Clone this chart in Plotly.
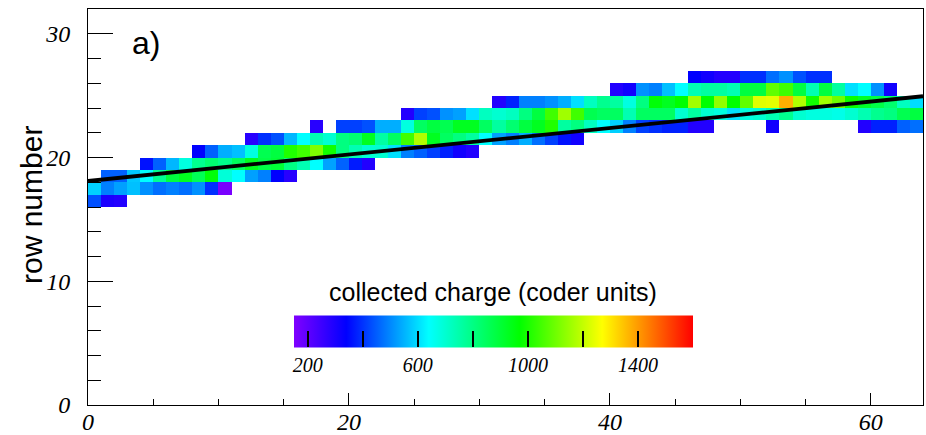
import plotly.graph_objects as go

# ---------------- data ----------------
n_cols = 64
n_rows = 32

# collected charge per cell, one list per row (start column + values, None = empty)
row16_start, row16 = 0, [434, 300, 290]
row17_start, row17 = 0, [585, 490, 528, 566, 510, 470, 490, 470, 510, 395, 160]
row18_start, row18 = 1, [453, 453, 575, 640, 780, 890, 930, 860, 960, 690, 640, 528, 490, 340, 280]
row19_start, row19 = 4, [360, 453, 555, 680, 785, 825, 790, 850, 930, 880, 900, 800, 740, 640,
                         530, 455, 370, 290]
row20_start, row20 = 8, [340, 453, 545, 566, 680, 866, 887, 1008, 1045, 1120, 990, 804, 740, 700,
                         700, 603, 490, 453, 415, 378, 315, 290]
row21_start, row21 = 12, [280, 395, 434, 555, 640, 740, 700, 804, 825, 929, 760, 846, 1045, 1177,
                          929, 846, 804, 763, 640, 528, 490, 545, 470, 415, 360, 315]
row22_start, row22 = 17, [280, None, 415, 415, 434, 545, 545, 680, 846, 887, 866, 929, 929, 846,
                          763, 825, 887, 929, 1008, 763, 804, 722, 640, 585, 490, 415, 395, 378,
                          378, 290, 290, None, None, None, None, 315, None, None, None, None,
                          None, None, 290, 378, 378, 453, 470]
row23_start, row23 = 24, [290, 415, 434, 510, 528, 603, 722, 700, 722, 804, 887, 1045, 1158, 1045,
                          866, 846, 846, 740, 846, 846, 846, 700, 763, 700, 680, 603, 680, 700,
                          740, 785, 700, 680, 680, 670, 700, 740, 785, 804, 866, 887]
row24_start, row24 = 31, [290, 378, 490, 490, 510, 545, 603, 722, 785, 763, 680, 804, 960, 929,
                          970, 1158, 970, 1140, 970, 1083, 1233, 1240, 1372, 1177, 990, 1160,
                          1100, 980, 920, 880, 830, 720, 600]
row25_start, row25 = 40, [290, 315, 510, 490, 566, 640, 740, 763, 763, 740, 887, 887, 1083, 1045,
                          887, 740, 887, 763, 603, 640, 510, 315]
row26_start, row26 = 46, [340, 315, 290, 290, 395, 395, 470, 510, 434, 395, 395]

# straight-line track fit
fit_x = [0, 64]
fit_y = [18.1, 24.95]

# colour bar ticks
cbar_tickvals = [200, 400, 600, 800, 1000, 1200, 1400]
cbar_ticktext = ["200", "", "600", "", "1000", "", "1400"]
zmin, zmax = 150, 1600

# ---------------- build grid ----------------
rows = {16: (row16_start, row16), 17: (row17_start, row17), 18: (row18_start, row18),
        19: (row19_start, row19), 20: (row20_start, row20), 21: (row21_start, row21),
        22: (row22_start, row22), 23: (row23_start, row23), 24: (row24_start, row24),
        25: (row25_start, row25), 26: (row26_start, row26)}
z = [[None] * n_cols for _ in range(n_rows)]
for r, (s, vals) in rows.items():
    for k, v in enumerate(vals):
        z[r][s + k] = v
x_centers = [i + 0.5 for i in range(n_cols)]
y_centers = [j + 0.5 for j in range(n_rows)]

def frac(v):
    return (v - zmin) / (zmax - zmin)

colorscale = [
    [0.0, "#8000ff"],
    [frac(340), "#0000ff"],
    [frac(640), "#00ffff"],
    [frac(970), "#00ff00"],
    [frac(1270), "#ffff00"],
    [1.0, "#ff0000"],
]

# layout geometry (pixels)
W, H = 926, 435
ML, MR, MT, MB = 88, 3, 9, 30
PW, PH = W - ML - MR, H - MT - MB

def px(xp):
    return (xp - ML) / PW

def py(yp):
    return (H - MB - yp) / PH

serif_it = dict(family="Liberation Serif", size=24, color="black", style="italic")
sans = "Liberation Sans"

fig = go.Figure()
fig.add_trace(go.Heatmap(
    z=z, x=x_centers, y=y_centers, colorscale=colorscale, zmin=zmin, zmax=zmax,
    hoverinfo="skip",
    colorbar=dict(
        orientation="h", thickness=32, thicknessmode="pixels",
        len=399, lenmode="pixels", x=px(493.5), xanchor="center",
        y=py(354), yanchor="middle", ypad=0, xpad=0,
        outlinewidth=0,
        tickvals=cbar_tickvals, ticktext=cbar_ticktext,
        ticks="inside", ticklen=16, tickwidth=1.5, tickcolor="black",
        tickfont=dict(family="Liberation Serif", size=20, color="black", style="italic"),
    ),
))
fig.add_trace(go.Scatter(x=fit_x, y=fit_y, mode="lines",
                         line=dict(color="black", width=3.8), showlegend=False,
                         hoverinfo="skip"))

fig.update_layout(
    width=W, height=H,
    margin=dict(l=ML, r=MR, t=MT, b=MB, autoexpand=False),
    paper_bgcolor="white", plot_bgcolor="white",
    showlegend=False,
    annotations=[
        dict(text="a)", x=px(130), y=py(43), xref="paper", yref="paper",
             xanchor="left", yanchor="middle",
             showarrow=False, font=dict(family=sans, size=32, color="black")),
        dict(text="collected charge (coder units)", x=px(493), y=py(292),
             xref="paper", yref="paper", xanchor="center", yanchor="middle",
             showarrow=False, font=dict(family=sans, size=25, color="black")),
        dict(text="row number", x=px(31), y=py(205), xref="paper", yref="paper",
             xanchor="center", yanchor="middle", textangle=-90,
             showarrow=False, font=dict(family=sans, size=30, color="black")),
    ],
)
fig.update_xaxes(
    range=[0, 64], showline=True, linecolor="black", linewidth=1, mirror=True,
    ticks="inside", ticklen=12, tickwidth=1, tickcolor="black", automargin=False,
    tick0=0, dtick=20, showgrid=False, zeroline=False, tickfont=serif_it,
    ticklabelstandoff=-5,
    minor=dict(dtick=5, ticks="inside", ticklen=6, tickwidth=1, tickcolor="black", showgrid=False),
)
fig.update_yaxes(
    range=[0, 32], showline=True, linecolor="black", linewidth=1, mirror=True,
    ticks="inside", ticklen=25, tickwidth=1, tickcolor="black", automargin=False,
    tick0=0, dtick=10, showgrid=False, zeroline=False, tickfont=serif_it,
    ticklabelstandoff=12,
    minor=dict(dtick=2, ticks="inside", ticklen=13, tickwidth=1, tickcolor="black", showgrid=False),
)

fig.write_html("out.html", config={"displayModeBar": False},
               post_script="document.body.style.margin='0';")
